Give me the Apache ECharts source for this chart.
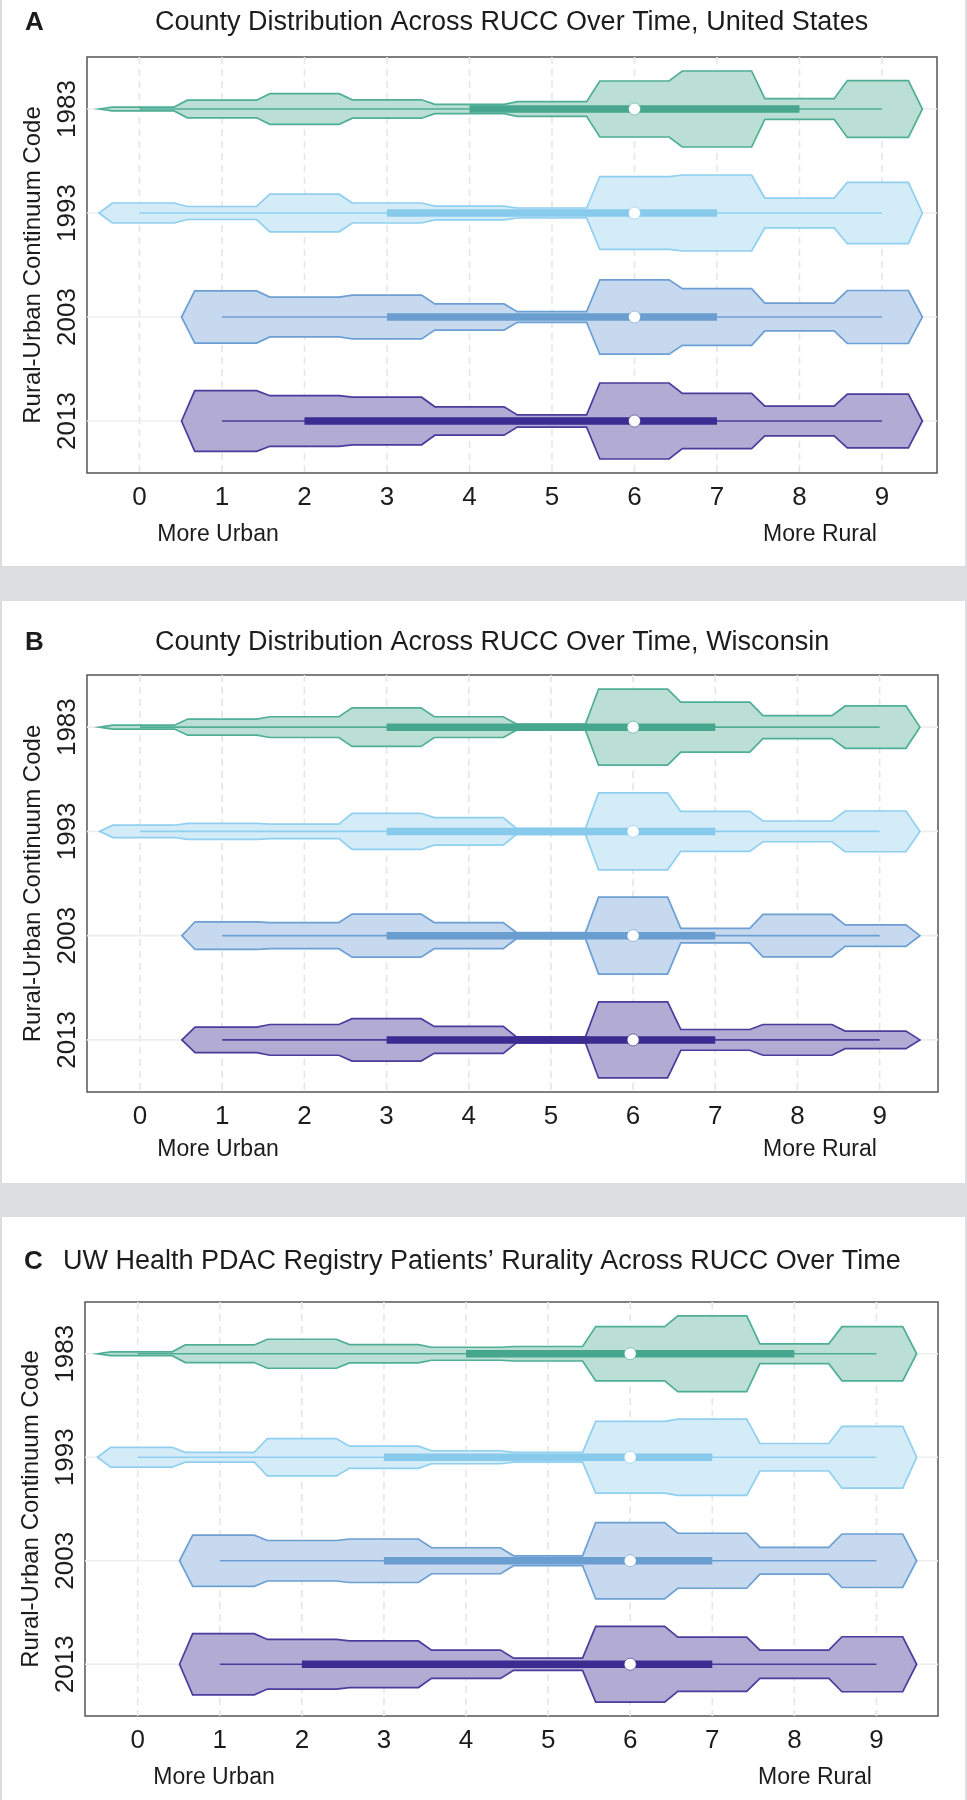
<!DOCTYPE html>
<html><head><meta charset="utf-8">
<script src="https://cdn.jsdelivr.net/npm/echarts@6/dist/echarts.min.js"></script>
<style>html,body{margin:0;padding:0;background:#fff}#c{width:967px;height:1800px}</style>
</head><body><div id="c"></div>
<script>
// ---------------- DATA ----------------
const years = ['1983', '1993', '2003', '2013'];
const ruccCodes = [0, 1, 2, 3, 4, 5, 6, 7, 8, 9];
const ruccTickLabels = ['0', '1', '2', '3', '4', '5', '6', '7', '8', '9'];

// violin relative half-widths per RUCC code 0..9 (1 = widest)
// A: United States
const us1983 = [0.05, 0.23, 0.40, 0.24, 0.12, 0.19, 0.73, 0.99, 0.27, 0.74];
const us1993 = [0.26, 0.17, 0.49, 0.26, 0.18, 0.13, 0.95, 0.99, 0.39, 0.80];
const us2003 = [0, 0.68, 0.52, 0.57, 0.34, 0.14, 0.97, 0.74, 0.36, 0.69];
const us2013 = [0, 0.79, 0.66, 0.62, 0.37, 0.16, 0.99, 0.72, 0.39, 0.70];
// B: Wisconsin
const wi1983 = [0.05, 0.21, 0.27, 0.50, 0.27, 0.08, 0.99, 0.65, 0.30, 0.55];
const wi1993 = [0.16, 0.21, 0.19, 0.47, 0.36, 0.08, 1.00, 0.52, 0.27, 0.53];
const wi2003 = [0, 0.36, 0.34, 0.56, 0.34, 0.08, 1.00, 0.19, 0.55, 0.28];
const wi2013 = [0, 0.33, 0.40, 0.55, 0.35, 0.08, 0.99, 0.27, 0.40, 0.23];
// C: UW Health PDAC registry
const uw1983 = [0.05, 0.23, 0.38, 0.24, 0.17, 0.19, 0.71, 0.99, 0.26, 0.71];
const uw1993 = [0.26, 0.13, 0.49, 0.29, 0.17, 0.13, 0.94, 1.00, 0.36, 0.81];
const uw2003 = [0, 0.67, 0.53, 0.57, 0.34, 0.13, 1.00, 0.72, 0.35, 0.70];
const uw2013 = [0, 0.80, 0.65, 0.61, 0.37, 0.16, 0.99, 0.71, 0.37, 0.72];

// box-plot statistics per year (1983, 1993, 2003, 2013)
const usLow = [0, 0, 1, 1], usQ1 = [4, 3, 3, 2], usMed = [6, 6, 6, 6], usQ3 = [8, 7, 7, 7], usHigh = [9, 9, 9, 9];
const wiLow = [0, 0, 1, 1], wiQ1 = [3, 3, 3, 3], wiMed = [6, 6, 6, 6], wiQ3 = [7, 7, 7, 7], wiHigh = [9, 9, 9, 9];
const uwLow = [0, 0, 1, 1], uwQ1 = [4, 3, 3, 2], uwMed = [6, 6, 6, 6], uwQ3 = [8, 7, 7, 7], uwHigh = [9, 9, 9, 9];

const titleA = 'County Distribution Across RUCC Over Time, United States';
const titleB = 'County Distribution Across RUCC Over Time, Wisconsin';
const titleC = 'UW Health PDAC Registry Patients\u2019 Rurality Across RUCC Over Time';

// ---------------- STYLE ----------------
const palette = [
  {line: '#4fae96', fill: '#bcdfd5', box: '#47a78e'},
  {line: '#8fd0f0', fill: '#d4ebf8', box: '#87caec'},
  {line: '#6c9fd3', fill: '#c7d9ee', box: '#6a9dd0'},
  {line: '#4b3b9c', fill: '#b2abd4', box: '#3b2c92'}
];
const TXT = '#1c1c1c';
const REG = '"Liberation Sans", Arial, sans-serif';
const NAR = '"Liberation Sans Narrow", "Liberation Sans", sans-serif';

const panels = [
  {dens: [us1983, us1993, us2003, us2013], lo: usLow, q1: usQ1, med: usMed, q3: usQ3, hi: usHigh,
   grid: {left: 87, top: 57, width: 850, height: 416}, min: -0.636, max: 9.667},
  {dens: [wi1983, wi1993, wi2003, wi2013], lo: wiLow, q1: wiQ1, med: wiMed, q3: wiQ3, hi: wiHigh,
   grid: {left: 87, top: 675, width: 851, height: 417}, min: -0.645, max: 9.71},
  {dens: [uw1983, uw1993, uw2003, uw2013], lo: uwLow, q1: uwQ1, med: uwMed, q3: uwQ3, hi: uwHigh,
   grid: {left: 85, top: 1302, width: 853, height: 414}, min: -0.642, max: 9.75}
];

function violinRenderer(p) {
  return function (params, api) {
    const i = params.dataIndex;
    const d = p.dens[i];
    const c = palette[i];
    const band = api.size([0, 1])[1];
    const maxHalf = band * 0.369;
    let kmin = 0; while (d[kmin] <= 0) kmin++;
    let kmax = d.length - 1; while (d[kmax] <= 0) kmax--;
    const top = [], bot = [];
    const push = (x, w) => {
      const pt = api.coord([x, i]);
      top.push([pt[0], pt[1] - w * maxHalf]);
      bot.push([pt[0], pt[1] + w * maxHalf]);
    };
    push(kmin - 0.49, 0);
    push(kmin - 0.33, d[kmin]);
    for (let k = kmin; k <= kmax; k++) {
      if (k > kmin) push(k - 0.42, d[k]);
      if (k < kmax) push(k + 0.42, d[k]);
    }
    push(kmax + 0.32, d[kmax]);
    push(kmax + 0.49, 0);
    const pts = top.concat(bot.reverse());
    const a = api.coord([p.lo[i], i]), b = api.coord([p.hi[i], i]);
    const q1 = api.coord([p.q1[i], i]), q3 = api.coord([p.q3[i], i]);
    const m = api.coord([p.med[i], i]);
    return {
      type: 'group',
      children: [
        {type: 'polygon', shape: {points: pts}, style: {fill: c.fill, stroke: c.line, lineWidth: 1.7, lineJoin: 'miter'}},
        {type: 'line', shape: {x1: a[0], y1: a[1], x2: b[0], y2: b[1]}, style: {stroke: c.line, lineWidth: 1.7}},
        {type: 'line', shape: {x1: q1[0], y1: q1[1], x2: q3[0], y2: q3[1]}, style: {stroke: c.box, lineWidth: 7.5, lineCap: 'butt'}},
        {type: 'circle', shape: {cx: m[0], cy: m[1], r: 6}, style: {fill: '#ffffff', stroke: c.box, lineWidth: 0.6}}
      ]
    };
  };
}

function vGridRender(params, api) {
  const x = api.coord([api.value(0), 0])[0];
  const cs = params.coordSys;
  return {type: 'line', shape: {x1: x, y1: cs.y, x2: x, y2: cs.y + cs.height},
          style: {stroke: '#e6e6e6', lineWidth: 1.6, lineDash: [7, 5]}};
}
function hGridRender(params, api) {
  const y = api.coord([0, api.value(1)])[1];
  const cs = params.coordSys;
  return {type: 'line', shape: {x1: cs.x, y1: y, x2: cs.x + cs.width, y2: y},
          style: {stroke: '#eeeeee', lineWidth: 1.6}};
}

const grids = [], xAxes = [], yAxes = [], series = [];
panels.forEach((p, pi) => {
  grids.push(Object.assign({show: true, borderColor: '#555', borderWidth: 1.5, backgroundColor: '#fff', containLabel: false}, p.grid));
  xAxes.push({
    type: 'value', gridIndex: pi, min: p.min, max: p.max,
    axisLine: {show: false}, axisTick: {show: false}, splitLine: {show: false},
    axisLabel: {customValues: ruccCodes, formatter: v => ruccTickLabels[Math.round(v)], color: TXT,
                fontFamily: NAR, fontSize: 26, margin: 12}
  });
  yAxes.push({
    type: 'category', gridIndex: pi, data: years, inverse: true,
    axisLine: {show: false}, axisTick: {show: false}, splitLine: {show: false},
    axisLabel: {rotate: 90, color: TXT, fontFamily: NAR, fontSize: 26, margin: 6},
    name: 'Rural-Urban Continuum Code', nameLocation: 'middle', nameRotate: 90, nameGap: 42,
    nameTextStyle: {color: TXT, fontFamily: REG, fontSize: 24}
  });
  series.push({type: 'custom', xAxisIndex: pi, yAxisIndex: pi, z: 1, silent: true,
    data: ruccCodes.map(v => [v, 0]), renderItem: vGridRender});
  series.push({type: 'custom', xAxisIndex: pi, yAxisIndex: pi, z: 1, silent: true,
    data: years.map((y, i) => [0, i]), renderItem: hGridRender});
  series.push({type: 'custom', xAxisIndex: pi, yAxisIndex: pi, z: 3, silent: true,
    encode: {x: 0, y: 1},
    data: years.map((y, i) => [p.med[i], i]), renderItem: violinRenderer(p)});
});

function txt(x, y, text, font, align) {
  return {type: 'text', x: x, y: y, z: 10,
    style: {text: text, font: font, fill: TXT, align: align || 'left', verticalAlign: 'middle',
            textAlign: align || 'left', textVerticalAlign: 'middle'}};
}

const graphics = [
  {type: 'rect', z: -10, shape: {x: 0, y: 0, width: 967, height: 1800}, style: {fill: '#dcdddf'}},
  {type: 'rect', z: -9, shape: {x: 2, y: 0, width: 963, height: 566}, style: {fill: '#ffffff'}},
  {type: 'rect', z: -9, shape: {x: 2, y: 601, width: 963, height: 582}, style: {fill: '#ffffff'}},
  {type: 'rect', z: -9, shape: {x: 2, y: 1217, width: 963, height: 583}, style: {fill: '#ffffff'}},
  txt(25, 23, 'A', 'bold 26px ' + REG),
  txt(155, 23, titleA, '27px ' + REG),
  txt(25, 643, 'B', 'bold 26px ' + REG),
  txt(155, 643, titleB, '27px ' + REG),
  txt(24, 1262, 'C', 'bold 26px ' + REG),
  txt(63, 1262, titleC, '27px ' + REG),
  txt(218, 535, 'More Urban', '23px ' + REG, 'center'),
  txt(820, 535, 'More Rural', '23px ' + REG, 'center'),
  txt(218, 1150, 'More Urban', '23px ' + REG, 'center'),
  txt(820, 1150, 'More Rural', '23px ' + REG, 'center'),
  txt(214, 1778, 'More Urban', '23px ' + REG, 'center'),
  txt(815, 1778, 'More Rural', '23px ' + REG, 'center')
];

const chart = echarts.init(document.getElementById('c'), null, {renderer: 'canvas'});
chart.setOption({
  animation: false,
  backgroundColor: '#ffffff',
  grid: grids, xAxis: xAxes, yAxis: yAxes, series: series,
  graphic: {elements: graphics}
});
</script></body></html>
